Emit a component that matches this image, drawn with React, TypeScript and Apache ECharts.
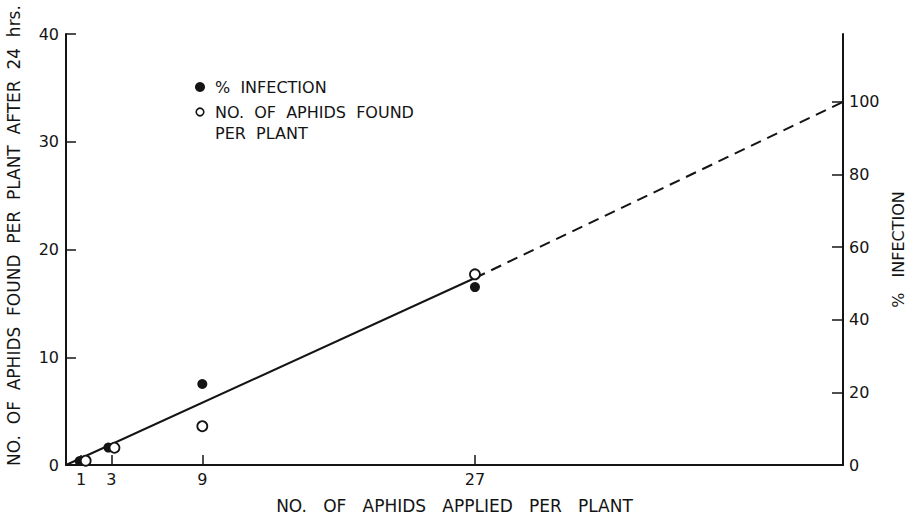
import React, { useEffect, useRef } from "react";
import * as echarts from "echarts";

const xTicks = [1, 3, 9, 27];
const rightTicks = [0, 20, 40, 60, 80, 100];
const infectionPoints: [number, number][] = [
  [0.9, 1.1],
  [2.8, 4.8],
  [9, 22.3],
  [27, 49.0],
];
const aphidsFoundPoints: [number, number][] = [
  [1.3, 0.4],
  [3.2, 1.6],
  [9, 3.6],
  [27, 17.7],
];
const fitSolid: [number, number][] = [
  [0, 0],
  [27, 51.5],
];
const fitDashed: [number, number][] = [
  [27, 51.5],
  [51.3, 100],
];

const FONT = "DejaVu Sans";
const INK = "#141414";

export default function App() {
  const ref = useRef<HTMLDivElement>(null);
  useEffect(() => {
    if (!ref.current) return;
    const chart = echarts.init(ref.current, null, { renderer: "svg" });
    const axisLine = { show: true, lineStyle: { color: INK, width: 2 } };
    chart.setOption({
      animation: false,
      backgroundColor: "#ffffff",
      textStyle: { fontFamily: FONT, color: INK },
      grid: { left: 66, right: 64, top: 34, bottom: 53, containLabel: false, outerBoundsMode: "none" },
      xAxis: {
        type: "value",
        min: 0,
        max: 51.3,
        axisLine,
        splitLine: { show: false },
        axisTick: { show: true, inside: true, length: 10, customValues: xTicks, lineStyle: { color: INK, width: 1.5 } },
        axisLabel: { customValues: xTicks, fontFamily: FONT, fontSize: 16, color: INK, margin: 6 },
        name: "NO.   OF   APHIDS   APPLIED   PER   PLANT",
        nameLocation: "middle",
        nameGap: 32,
        nameTextStyle: { fontFamily: FONT, fontSize: 17, color: INK },
      },
      yAxis: [
        {
          type: "value",
          min: 0,
          max: 40,
          interval: 10,
          position: "left",
          axisLine,
          splitLine: { show: false },
          axisTick: { show: true, inside: true, length: 10, lineStyle: { color: INK, width: 1.5 } },
          axisLabel: { fontFamily: FONT, fontSize: 16, color: INK, margin: 7 },
          name: "NO.  OF  APHIDS  FOUND  PER  PLANT  AFTER  24  hrs.",
          nameLocation: "middle",
          nameGap: 44,
          nameTextStyle: { fontFamily: FONT, fontSize: 17, color: INK, padding: [0, 0, 0, 28] },
        },
        {
          type: "value",
          min: 0,
          max: 118.7,
          position: "right",
          axisLine,
          splitLine: { show: false },
          axisTick: { show: true, inside: true, length: 11, customValues: rightTicks, lineStyle: { color: INK, width: 1.5 } },
          axisLabel: { customValues: rightTicks, fontFamily: FONT, fontSize: 16, color: INK, margin: 6 },
          name: "%   INFECTION",
          nameLocation: "middle",
          nameGap: 42,
          nameRotate: 90,
          nameTextStyle: { fontFamily: FONT, fontSize: 16, color: INK },
        },
      ],
      series: [
        {
          type: "line",
          yAxisIndex: 1,
          data: fitSolid,
          symbol: "none",
          lineStyle: { color: INK, width: 2 },
          z: 2,
        },
        {
          type: "line",
          yAxisIndex: 1,
          data: fitDashed,
          symbol: "none",
          lineStyle: { color: INK, width: 2, type: [11, 7] },
          z: 2,
        },
        {
          type: "scatter",
          name: "% INFECTION",
          yAxisIndex: 1,
          data: infectionPoints,
          symbol: "circle",
          symbolSize: 10,
          itemStyle: { color: INK, opacity: 1 },
          z: 3,
        },
        {
          type: "scatter",
          name: "NO. OF APHIDS FOUND PER PLANT",
          yAxisIndex: 0,
          data: aphidsFoundPoints,
          symbol: "circle",
          symbolSize: 10,
          itemStyle: { color: "#ffffff", borderColor: INK, borderWidth: 1.8, opacity: 1 },
          z: 4,
        },
      ],
      graphic: [
        { type: "circle", shape: { cx: 200, cy: 87, r: 5 }, style: { fill: INK } },
        {
          type: "text",
          x: 215,
          y: 87,
          style: { text: "%  INFECTION", font: `16px "${FONT}"`, fill: INK, verticalAlign: "middle" },
        },
        { type: "circle", shape: { cx: 200, cy: 112, r: 3.8 }, style: { fill: "#fff", stroke: INK, lineWidth: 1.6 } },
        {
          type: "text",
          x: 215,
          y: 112,
          style: { text: "NO.  OF  APHIDS  FOUND", font: `16px "${FONT}"`, fill: INK, verticalAlign: "middle" },
        },
        {
          type: "text",
          x: 215,
          y: 133,
          style: { text: "PER  PLANT", font: `16px "${FONT}"`, fill: INK, verticalAlign: "middle" },
        },
      ],
    });
    return () => chart.dispose();
  }, []);
  return (
    <div
      ref={ref}
      style={{ position: "fixed", left: 0, top: 0, width: 907, height: 518, background: "#fff" }}
    />
  );
}
